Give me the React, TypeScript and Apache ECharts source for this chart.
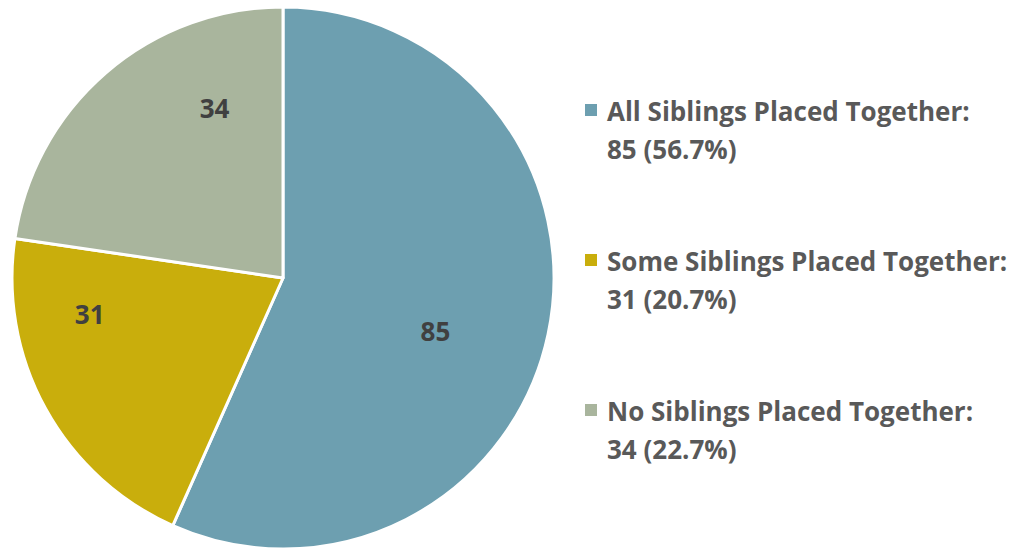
import React, { useEffect, useRef } from "react";
import * as echarts from "echarts";

const categories = [
  "All Siblings Placed Together:",
  "Some Siblings Placed Together:",
  "No Siblings Placed Together:",
];
const values = [85, 31, 34];
const percents = ["56.7%", "20.7%", "22.7%"];
const colors = ["#6D9FB0", "#C9AE0C", "#A9B59D"];
const labelOffsets = [
  [17, 24],
  [-72, -31],
  [22, -65],
];

export default function App() {
  const ref = useRef<HTMLDivElement>(null);
  useEffect(() => {
    if (!ref.current) return;
    const chart = echarts.init(ref.current, undefined, { renderer: "svg" });
    const font = "'Open Sans', Lato, sans-serif";
    const legendGraphics: any[] = [];
    categories.forEach((c, i) => {
      legendGraphics.push({
        type: "rect",
        left: 585,
        top: 104 + 150 * i,
        shape: { width: 12, height: 12 },
        style: { fill: colors[i] },
      });
      legendGraphics.push({
        type: "text",
        left: 607,
        top: 92 + 150 * i,
        style: {
          text: `${c}\n${values[i]} (${percents[i]})`,
          fill: "#595959",
          font: `bold 26px ${font}`,
          lineHeight: 38,
        },
      });
    });
    chart.setOption({
      animation: false,
      backgroundColor: "#FFFFFF",
      graphic: legendGraphics,
      series: [
        {
          type: "pie",
          center: [283, 278],
          radius: 271,
          startAngle: 90,
          clockwise: true,
          data: values.map((v, i) => ({
            name: categories[i],
            value: v,
            itemStyle: { color: colors[i] },
            label: { offset: labelOffsets[i] },
          })),
          itemStyle: { borderColor: "#FFFFFF", borderWidth: 3 },
          label: {
            show: true,
            position: "inside",
            formatter: "{c}",
            color: "#404040",
            fontFamily: font,
            fontWeight: "bold",
            fontSize: 26,
          },
          labelLine: { show: false },
          emphasis: { disabled: true },
        },
      ],
    });
    return () => chart.dispose();
  }, []);
  return (
    <div
      ref={ref}
      style={{ position: "absolute", left: 0, top: 0, width: 1025, height: 548 }}
    />
  );
}
